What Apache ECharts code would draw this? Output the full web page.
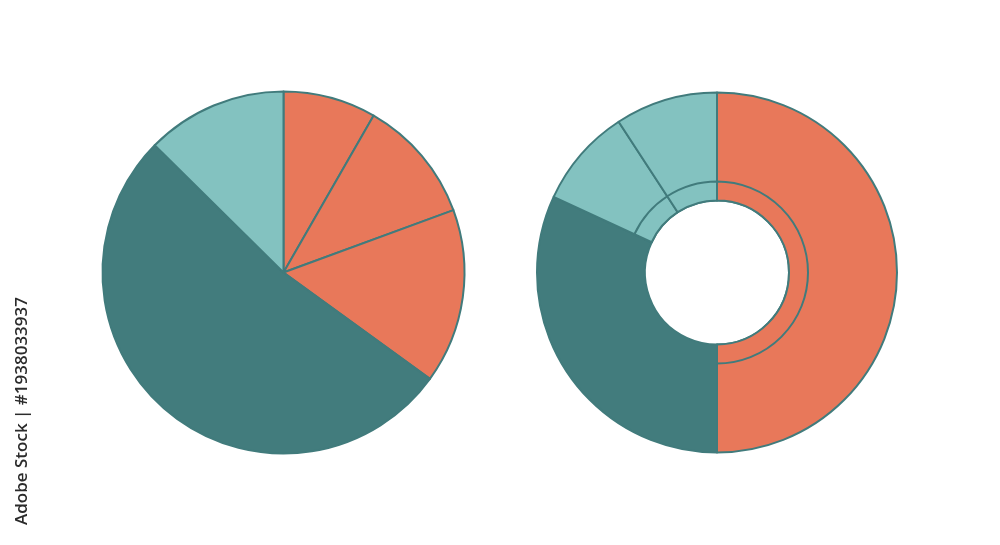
<!DOCTYPE html>
<html>
<head>
<meta charset="utf-8">
<script src="https://cdn.jsdelivr.net/npm/echarts@6/dist/echarts.min.js"></script>
<style>html,body{margin:0;padding:0;background:#fff;}#c{width:1000px;height:545px;}</style>
</head>
<body>
<div id="c"></div>
<script>
// Left pie: slices clockwise from 12 o'clock (percent)
const pieNames = ['A', 'B', 'C', 'D', 'E'];
const pieValues = [8.3, 11.1, 15.6, 52.4, 12.6];
const pieColors = ['#E8785A', '#E8785A', '#E8785A', '#427C7D', '#83C2C0'];

// Right donut: slices clockwise from 12 o'clock (percent)
const donutNames = ['A', 'B', 'C', 'D'];
const donutValues = [50, 31.9, 8.9, 9.2];
const donutColors = ['#E8785A', '#427C7D', '#83C2C0', '#83C2C0'];
// inner thin ring is drawn only on these slices
const ringShown = [true, false, true, true];

const watermark = 'Adobe Stock | #1938033937';

const BORDER = '#417B7C';

function mk(names, values, colors, shown) {
  return names.map((n, i) => {
    const vis = !shown || shown[i];
    return {
      name: n, value: values[i],
      itemStyle: vis ? { color: colors[i] } : { color: 'rgba(0,0,0,0)', borderWidth: 0 }
    };
  });
}

const common = {
  type: 'pie',
  startAngle: 90,
  clockwise: true,
  label: { show: false },
  labelLine: { show: false },
  emphasis: { disabled: true },
  silent: true,
  animation: false,
  itemStyle: { borderColor: BORDER, borderWidth: 2 }
};

const chart = echarts.init(document.getElementById('c'), null, { renderer: 'canvas' });
chart.setOption({
  backgroundColor: '#ffffff',
  animation: false,
  series: [
    Object.assign({}, common, {
      center: [283.5, 272.5],
      radius: [0, 181],
      data: mk(pieNames, pieValues, pieColors)
    }),
    Object.assign({}, common, {
      center: [717, 272.5],
      radius: [72, 180],
      data: mk(donutNames, donutValues, donutColors)
    }),
    Object.assign({}, common, {
      center: [717, 272.5],
      radius: [72, 91],
      data: mk(donutNames, donutValues, donutColors, ringShown)
    })
  ],
  graphic: [{
    type: 'text',
    x: 22,
    y: 411,
    rotation: Math.PI / 2,
    style: {
      text: watermark,
      fill: '#2b2b2b',
      font: '600 17px "Open Sans"',
      textAlign: 'center',
      textVerticalAlign: 'middle'
    }
  }]
});
</script>
</body>
</html>
